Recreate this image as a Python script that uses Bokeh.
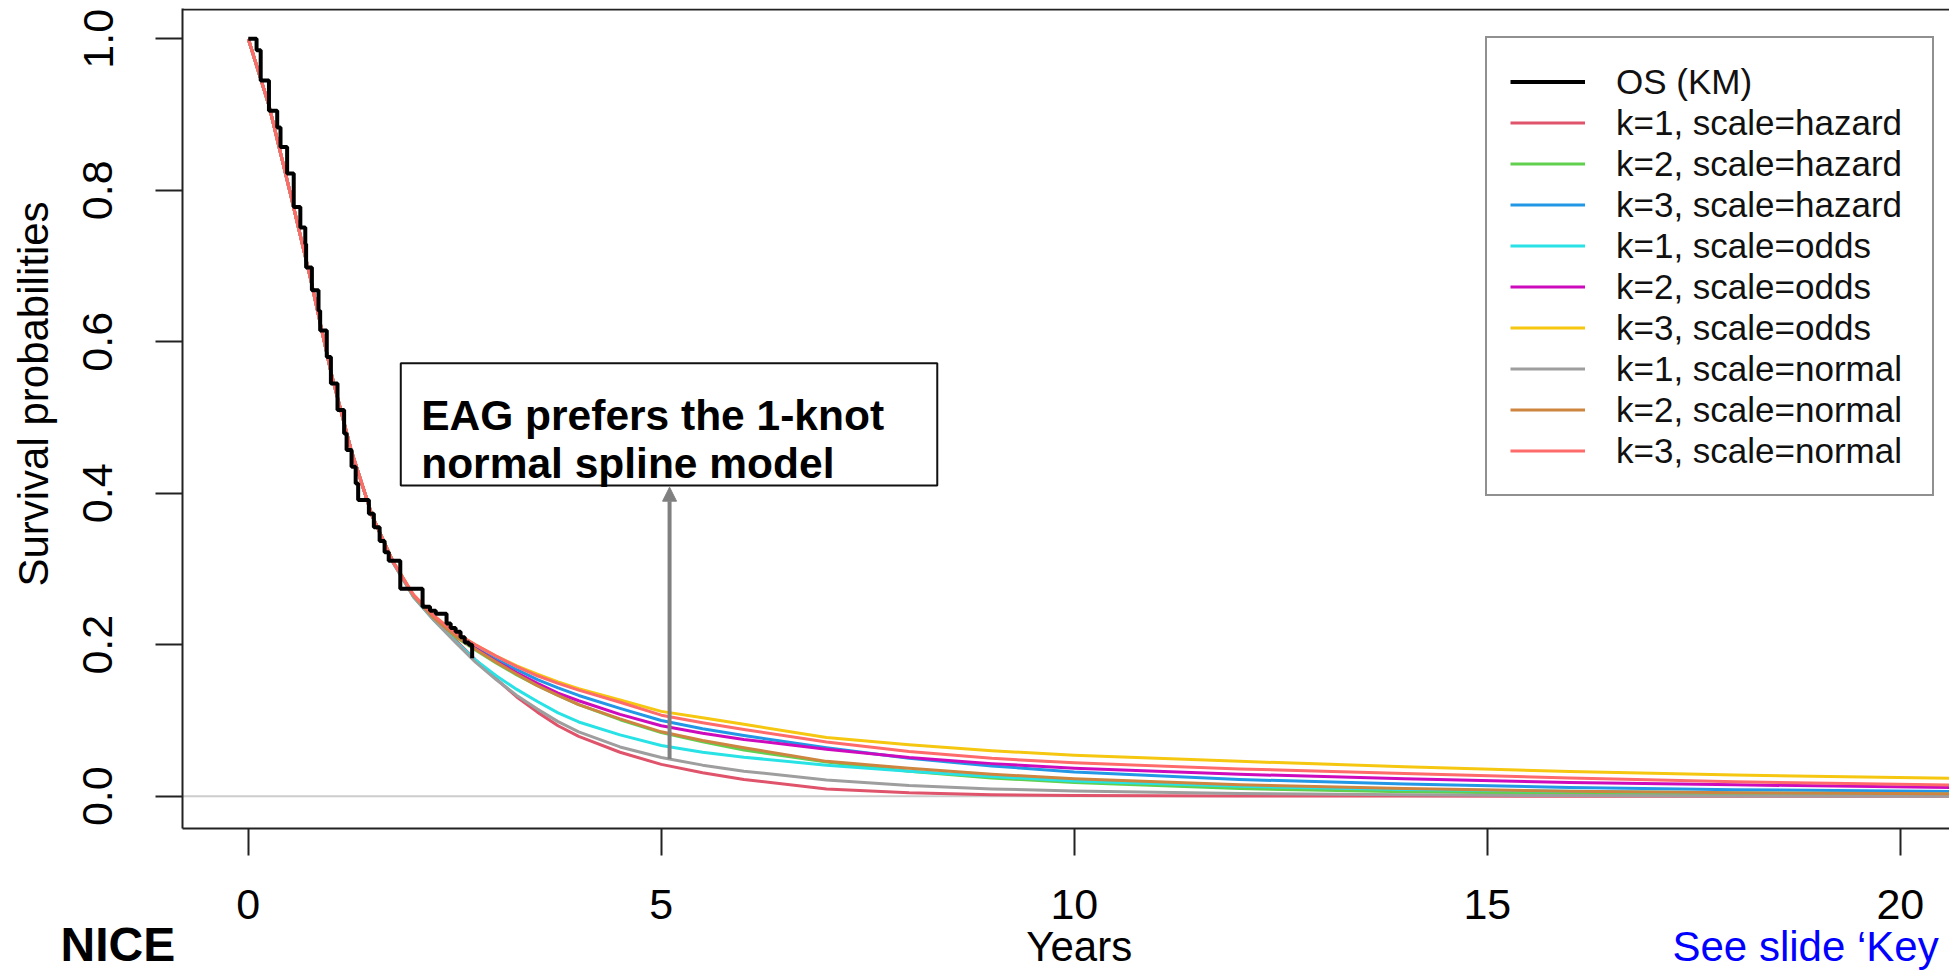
import math
from bokeh.plotting import figure
from bokeh.layouts import column
from bokeh.models import (Range1d, FixedTicker, PrintfTickFormatter, Span, BoxAnnotation,
                          Label, Arrow, NormalHead, Legend, LegendItem)
from bokeh.embed import file_html
from bokeh.resources import INLINE
from bokeh.core.properties import value

FONT = "Liberation Sans"

# ---------------- data ----------------
x_ticks = [0, 5, 10, 15, 20]
y_ticks = [0.0, 0.2, 0.4, 0.6, 0.8, 1.0]

km_time = [0, 0.10, 0.15, 0.23, 0.25, 0.35, 0.39, 0.47, 0.55, 0.63, 0.69, 0.70, 0.77,
           0.85, 0.87, 0.95, 1.00, 1.08, 1.16, 1.19, 1.25, 1.30, 1.33, 1.43, 1.46, 1.52,
           1.59, 1.65, 1.70, 1.84, 2.05, 2.11, 2.20, 2.27, 2.38, 2.40, 2.45, 2.51, 2.57,
           2.62, 2.67, 2.71]
km_surv = [1.0, 0.985, 0.945, 0.945, 0.905, 0.883, 0.857, 0.822, 0.778, 0.751, 0.729,
           0.698, 0.668, 0.641, 0.615, 0.580, 0.545, 0.510, 0.479, 0.457, 0.435, 0.413,
           0.391, 0.391, 0.373, 0.355, 0.337, 0.322, 0.311, 0.274, 0.274, 0.250, 0.245,
           0.241, 0.241, 0.228, 0.222, 0.217, 0.210, 0.203, 0.200, 0.182]

years = [0, 0.25, 0.5, 0.75, 1.0, 1.25, 1.5, 1.75, 2.0, 2.25, 2.5, 2.75, 3.0, 3.25, 3.5,
         3.75, 4.0, 4.5, 5.0, 5.5, 6.0, 7.0, 8.0, 9.0, 10.0, 12.0, 14.0, 16.0, 18.0, 21.0]

k1_hazard = [1.0, 0.912, 0.80, 0.685, 0.56, 0.455, 0.37, 0.309, 0.264, 0.234,
             0.207, 0.180, 0.155, 0.131, 0.111, 0.093, 0.079, 0.058, 0.042, 0.031,
             0.022, 0.0095, 0.0045, 0.002, 0.001, 0.0003, 0.0001, 0.0, 0.0, 0.0]
k2_hazard = [1.0, 0.912, 0.80, 0.685, 0.56, 0.455, 0.37, 0.31, 0.265, 0.235,
             0.211, 0.193, 0.176, 0.160, 0.146, 0.133, 0.121, 0.101, 0.084, 0.072,
             0.061, 0.045, 0.033, 0.024, 0.018, 0.010, 0.006, 0.0038, 0.0025, 0.0015]
k3_hazard = [1.0, 0.912, 0.80, 0.685, 0.56, 0.455, 0.37, 0.31, 0.265, 0.236,
             0.214, 0.197, 0.181, 0.167, 0.154, 0.143, 0.133, 0.116, 0.100, 0.089,
             0.080, 0.064, 0.050, 0.040, 0.032, 0.022, 0.016, 0.0115, 0.0085, 0.006]
k1_odds = [1.0, 0.912, 0.80, 0.685, 0.56, 0.455, 0.37, 0.309, 0.263, 0.232,
           0.205, 0.180, 0.159, 0.141, 0.125, 0.110, 0.098, 0.081, 0.067, 0.058,
           0.0515, 0.041, 0.033, 0.026, 0.020, 0.013, 0.009, 0.0065, 0.0045, 0.003]
k2_odds = [1.0, 0.912, 0.80, 0.685, 0.56, 0.455, 0.37, 0.31, 0.265, 0.235,
           0.213, 0.195, 0.178, 0.163, 0.149, 0.136, 0.126, 0.108, 0.093, 0.083,
           0.075, 0.062, 0.051, 0.043, 0.037, 0.029, 0.023, 0.018, 0.015, 0.011]
k3_odds = [1.0, 0.912, 0.80, 0.685, 0.56, 0.455, 0.37, 0.31, 0.266, 0.238,
           0.216, 0.200, 0.185, 0.172, 0.161, 0.151, 0.142, 0.127, 0.112, 0.1035,
           0.095, 0.0775, 0.068, 0.060, 0.054, 0.046, 0.039, 0.0325, 0.028, 0.023]
k1_normal = [1.0, 0.912, 0.80, 0.685, 0.56, 0.455, 0.37, 0.309, 0.263, 0.232,
             0.204, 0.177, 0.154, 0.133, 0.115, 0.0985, 0.085, 0.065, 0.051, 0.041,
             0.033, 0.0215, 0.014, 0.0095, 0.007, 0.0035, 0.0018, 0.0008, 0.0004, 0.0]
k2_normal = [1.0, 0.912, 0.80, 0.685, 0.56, 0.455, 0.37, 0.31, 0.265, 0.235,
             0.212, 0.194, 0.177, 0.161, 0.146, 0.133, 0.121, 0.102, 0.085, 0.0735,
             0.064, 0.046, 0.037, 0.029, 0.023, 0.015, 0.010, 0.0065, 0.0045, 0.003]
k3_normal = [1.0, 0.912, 0.80, 0.685, 0.56, 0.455, 0.37, 0.31, 0.266, 0.238,
             0.216, 0.200, 0.185, 0.171, 0.159, 0.149, 0.140, 0.124, 0.107, 0.097,
             0.088, 0.0715, 0.059, 0.050, 0.044, 0.036, 0.030, 0.024, 0.019, 0.014]

model_labels = ["k=1, scale=hazard", "k=2, scale=hazard", "k=3, scale=hazard",
                "k=1, scale=odds", "k=2, scale=odds", "k=3, scale=odds",
                "k=1, scale=normal", "k=2, scale=normal", "k=3, scale=normal"]
model_values = [k1_hazard, k2_hazard, k3_hazard, k1_odds, k2_odds, k3_odds,
                k1_normal, k2_normal, k3_normal]
model_colors = ["#DF536B", "#61D04F", "#2297E6", "#28E2E5", "#CD0BBC", "#F5C710",
                "#9E9E9E", "#CD853F", "#FF6A6A"]

W, H = 1949, 973

# ---------------- main figure ----------------
p = figure(width=W, height=H, output_backend="svg", toolbar_location=None,
           x_range=Range1d(-0.7966, 20.5956), y_range=Range1d(-0.04265, 1.0400),
           min_border_left=182, min_border_right=0, min_border_top=8,
           min_border_bottom=145, background_fill_color="white",
           border_fill_color="white")
p.outline_line_color = None
p.grid.visible = False

p.xaxis.ticker = FixedTicker(ticks=x_ticks)
p.yaxis.ticker = FixedTicker(ticks=y_ticks)
p.yaxis.formatter = PrintfTickFormatter(format="%.1f")
p.yaxis.major_label_orientation = "vertical"
for ax in (p.xaxis[0], p.yaxis[0]):
    ax.axis_line_width = 2
    ax.axis_line_color = "#222222"
    ax.major_tick_line_width = 2
    ax.major_tick_line_color = "#222222"
    ax.major_tick_in = 0
    ax.major_tick_out = 27
    ax.minor_tick_line_color = None
    ax.major_label_text_font = FONT
    ax.major_label_text_font_size = "43px"
    ax.major_label_text_color = "#000000"
p.xaxis.major_label_standoff = 34
p.yaxis.major_label_standoff = 43

# zero reference line and top border of the box
p.add_layout(Span(location=0, dimension="width", line_color="#CCCCCC", line_width=2,
                  level="underlay"))
p.add_layout(Span(location=1.0387, dimension="width", line_color="#222222", line_width=2))

# fitted curves
model_renderers = []
for lab, vals, col in zip(model_labels, model_values, model_colors):
    r = p.line(years, vals, line_color=col, line_width=3, line_join="round")
    model_renderers.append(r)

# KM
r_km = p.step(km_time, km_surv, mode="after", line_color="black", line_width=4)

# legend
items = [LegendItem(label="OS (KM)", renderers=[r_km])]
for lab, r in zip(model_labels, model_renderers):
    items.append(LegendItem(label=lab, renderers=[r]))
legend = Legend(items=items, location=(1303, 332), border_line_color="#222222",
                border_line_width=2, background_fill_color="white",
                background_fill_alpha=1.0, padding=23, spacing=0, margin=0,
                glyph_width=75, glyph_height=41, label_height=41, label_width=293,
                label_standoff=31, label_text_font=FONT, label_text_font_size="35px",
                label_text_color="#111111")
p.add_layout(legend)

# annotation box with arrow
p.add_layout(Arrow(end=NormalHead(size=14, fill_color="#808080", line_color="#808080",
                                  line_width=1),
                   x_start=5.1, y_start=0.049, x_end=5.1, y_end=0.408,
                   line_color="#808080", line_width=4))
p.add_layout(BoxAnnotation(left=1.846, right=8.341, bottom=0.4102, top=0.5717,
                           fill_color="white", fill_alpha=1.0, line_color="#111111",
                           line_width=2, line_alpha=1.0))
for txt, yy in (("EAG prefers the 1-knot", 0.5026), ("normal spline model", 0.4393)):
    p.add_layout(Label(x=2.093, y=yy, text=txt, text_font=FONT,
                       text_font_size="42.5px", text_font_style="bold",
                       text_color="#000000", text_align="left",
                       text_baseline="alphabetic"))

# ---------------- transparent overlay for texts outside the plot frame ----------------
ov = figure(width=W, height=H, output_backend="svg", toolbar_location=None,
            x_range=Range1d(-3.0, 20.5956), y_range=Range1d(-0.23409, 1.05057),
            x_axis_type=None, y_axis_type=None, min_border=0,
            min_border_left=0, min_border_right=0, min_border_top=0,
            min_border_bottom=0, background_fill_alpha=0, border_fill_alpha=0)
ov.outline_line_color = None
ov.grid.visible = False
ov.margin = (-H, 0, 0, 0)
for fig in (p, ov):
    if "frame_align" in fig.properties():
        fig.frame_align = False

ov.text(x=[-2.6005], y=[0.531], text=["Survival probabilities"], angle=math.pi / 2,
        text_font=value(FONT), text_font_size="42px", text_color="#000000",
        text_align="center", text_baseline="alphabetic")
ov.text(x=[10.06], y=[-0.1984], text=["Years"], text_font=value(FONT),
        text_font_size="42px", text_color="#000000", text_align="center",
        text_baseline="alphabetic")
ov.text(x=[17.242], y=[-0.1984], text=["See slide \u2018Key"], text_font=value(FONT),
        text_font_size="42px", text_color="#0000FF", text_align="left",
        text_baseline="alphabetic")
ov.text(x=[-2.2736], y=[-0.1958], text=["NICE"], text_font=value(FONT),
        text_font_size="48px", text_font_style="bold", text_color="#000000",
        text_align="left", text_baseline="alphabetic")

layout = column(p, ov, spacing=0)
open("out.html", "w").write(file_html(layout, INLINE))
